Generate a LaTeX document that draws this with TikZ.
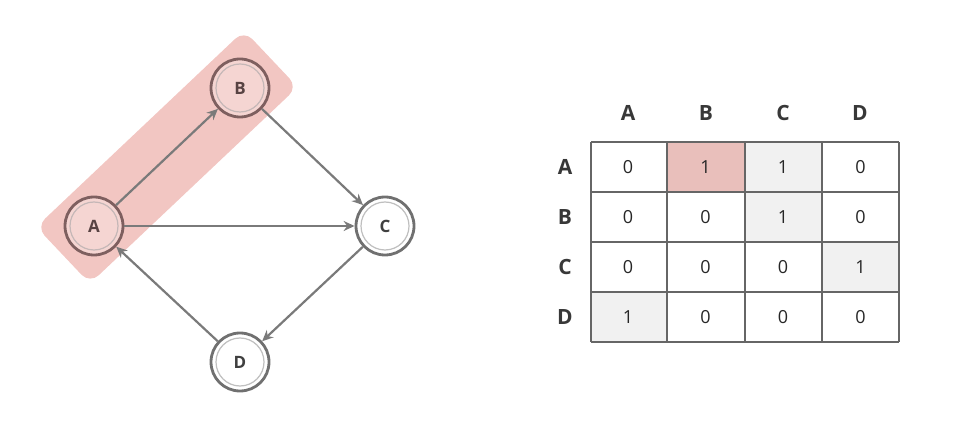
\documentclass[tikz,border=0pt]{standalone}
\usepackage{fontspec}
\setmainfont{Open Sans}
\usetikzlibrary{arrows.meta,calc}
\definecolor{band}{HTML}{F2C6C2}
\definecolor{pinkfill}{HTML}{F5D5D2}
\definecolor{pinkcell}{HTML}{E9BFBB}
\definecolor{graycell}{HTML}{F1F1F1}
\definecolor{edgec}{HTML}{7A7A7A}
\definecolor{ringpink}{HTML}{7E5F5F}
\definecolor{ringgray}{HTML}{707070}
\definecolor{gridc}{HTML}{666666}
\tikzset{
  vtx/.style={circle, minimum size=58pt, inner sep=0pt, line width=2.8pt, font=\fontsize{17}{17}\selectfont\bfseries},
  pinkv/.style={vtx, draw=ringpink, fill=pinkfill, text=ringpink!70!black},
  grayv/.style={vtx, draw=ringgray, fill=white, text=black!75},
  edge/.style={draw=edgec, line width=2.2pt, -{Stealth[length=11pt,width=10pt]}},
  hdr/.style={font=\fontsize{21}{21}\selectfont\bfseries, text=black!78},
  num/.style={font=\fontsize{18}{18}\selectfont, text=black!85},
}
\begin{document}
\begin{tikzpicture}[x=1pt,y=-1pt]
\useasboundingbox (0,0) rectangle (974,435);
% highlight band
\begin{scope}[shift={(167,157)}, rotate=43.4]
  \fill[band, rounded corners=12pt] (-143,-39) rectangle (143,39);
\end{scope}
% vertices
\node[pinkv] (A) at (94,226) {A};
\node[pinkv] (B) at (240,88) {B};
\node[grayv] (C) at (385,226) {C};
\node[grayv] (D) at (240,362) {D};
\foreach \n/\c in {A/ringpink,B/ringpink,C/ringgray,D/ringgray}{
  \draw[\c!45, line width=1.2pt] (\n.center) circle (24pt);
}
% edges
\draw[edge] (A) -- (B);
\draw[edge] (B) -- (C);
\draw[edge] (A) -- (C);
\draw[edge] (C) -- (D);
\draw[edge] (D) -- (A);
% matrix
\fill[pinkcell] (668,143) rectangle (744,191);
\fill[graycell] (746,143) rectangle (821,241);
\fill[graycell] (823,243) rectangle (898,291);
\fill[graycell] (592,293) rectangle (666,341);
\foreach \x in {591,667,745,822,899}{ \draw[gridc, line width=1.5pt] (\x,142) -- (\x,342); }
\foreach \y in {142,192,242,292,342}{ \draw[gridc, line width=1.5pt] (591,\y) -- (899,\y); }
\node[hdr] (hA) at (628,113) {A};
\node[hdr] (hB) at (706,113) {B};
\node[hdr] (hC) at (783,113) {C};
\node[hdr] (hD) at (860,113) {D};
\node[hdr] (rA) at (565,167) {A};
\node[hdr] (rB) at (565,217) {B};
\node[hdr] (rC) at (565,267) {C};
\node[hdr] (rD) at (565,317) {D};
\foreach \r/\y/\vals in {1/167/{0,1,1,0},2/217/{0,0,1,0},3/267/{0,0,0,1},4/317/{1,0,0,0}}{
  \foreach \v [count=\i] in \vals {
    \pgfmathsetmacro{\xx}{628+(\i-1)*77.5}
    \node[num] (m\r\i) at (\xx,\y) {\v};
  }
}
\end{tikzpicture}
\end{document}
